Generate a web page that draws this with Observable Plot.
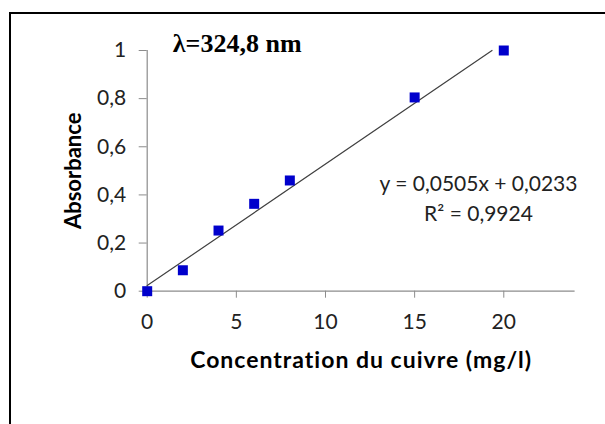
<!DOCTYPE html>
<html>
<head>
<meta charset="utf-8">
<script src="https://cdn.jsdelivr.net/npm/d3@7"></script>
<script src="https://cdn.jsdelivr.net/npm/@observablehq/plot@0.6"></script>
<style>
  html, body { margin: 0; padding: 0; background: #fff; }
  #wrap { position: relative; width: 605px; height: 424px; overflow: hidden; background: #fff; }
  #frame { position: absolute; left: 9px; top: 12px; width: 800px; height: 600px;
           border-left: 2.5px solid #000; border-top: 2.5px solid #000; box-sizing: border-box; }
  #chart { position: absolute; left: 0; top: 0; }
</style>
</head>
<body>
<div id="wrap"><div id="frame"></div><div id="chart"></div></div>
<script>
// Data
const concentration = [0, 2, 4, 6, 8, 15, 20];
const absorbance = [0, 0.087, 0.252, 0.363, 0.46, 0.805, 1.0];
const trendX = [0, 19.34];
const trendY = [0.0233, 1.0];
const xTicks = [0, 5, 10, 15, 20];
const yTicks = [0, 0.2, 0.4, 0.6, 0.8, 1];
const xLabel = "Concentration du cuivre (mg/l)";
const yLabel = "Absorbance";
const title = "λ=324,8 nm";
const equation = "y = 0,0505x + 0,0233";
const r2 = "R² = 0,9924";

const points = concentration.map((c, i) => ({c, a: absorbance[i]}));
const trend = trendX.map((x, i) => ({x, y: trendY[i]}));
const fmt = d => String(d).replace(".", ",");

const axisGray = "#8c8c8c";
const textDark = "#222";
const font = "Lato, 'Open Sans', sans-serif";

const chart = Plot.plot({
  width: 605,
  height: 424,
  marginLeft: 146.7,
  marginRight: 30.4,
  marginTop: 50,
  marginBottom: 133.3,
  style: {background: "transparent", fontFamily: font, overflow: "visible"},
  x: {domain: [0, 24]},
  y: {domain: [0, 1]},
  marks: [
    Plot.axisX({ticks: xTicks, tickFormat: fmt, tickSize: 7, tickPadding: 16, stroke: axisGray, fill: textDark, fontSize: 21, label: null}),
    Plot.axisY({ticks: yTicks, tickFormat: fmt, tickSize: 8, tickPadding: 13, stroke: axisGray, fill: textDark, fontSize: 21, label: null}),
    Plot.ruleY([0], {stroke: axisGray, strokeWidth: 1.2}),
    Plot.ruleX([0], {stroke: axisGray, strokeWidth: 1.2}),
    Plot.line(trend, {x: "x", y: "y", stroke: "#404040", strokeWidth: 1.2}),
    Plot.dot(points, {x: "c", y: "a", symbol: "square", r: 5.64, fill: "#0000cc", stroke: "none"}),
    Plot.text([title], {frameAnchor: "top-left", dx: 90, dy: 1.7, lineAnchor: "bottom", textAnchor: "middle",
      fontFamily: "'Liberation Serif', 'Times New Roman', serif", fontWeight: "bold", fontSize: 26, fill: "#000"}),
    Plot.text([equation], {frameAnchor: "top-left", dx: 331.3, dy: 140, lineAnchor: "bottom", textAnchor: "middle",
      fontSize: 21, fill: textDark}),
    Plot.text([r2], {frameAnchor: "top-left", dx: 331.3, dy: 170.7, lineAnchor: "bottom", textAnchor: "middle",
      fontSize: 21, fill: textDark}),
    Plot.text([xLabel], {frameAnchor: "bottom", dy: 76.6, lineAnchor: "bottom", textAnchor: "middle",
      fontSize: 23, fontWeight: "bold", fill: "#000"}),
    Plot.text([yLabel], {frameAnchor: "left", dx: -73.2, rotate: -90, lineAnchor: "middle", textAnchor: "middle",
      fontSize: 22, fontWeight: "bold", fill: "#000"})
  ]
});
d3.select(chart).selectAll("text").filter(function() { return this.textContent === xLabel; })
  .style("letter-spacing", "1px");
document.getElementById("chart").appendChild(chart);
</script>
</body>
</html>
